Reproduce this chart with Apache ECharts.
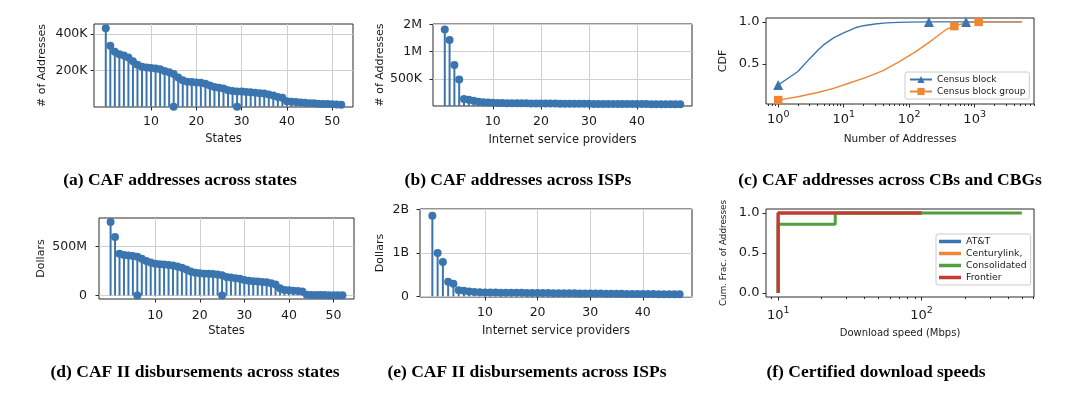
<!DOCTYPE html>
<html>
<head>
<meta charset="utf-8">
<title>CAF addresses and disbursements</title>
<script src="https://cdn.jsdelivr.net/npm/echarts@6/dist/echarts.min.js"></script>
<style>
  html, body { margin: 0; padding: 0; background: #fff; }
  #chart { width: 1066px; height: 394px; }
</style>
</head>
<body>
<div id="chart"></div>
<script>
// (a) CAF addresses per state, sorted
var stateAddresses = [431000, 335000, 302000, 289000, 282000, 270000, 250000, 230000, 220000, 216000,
  213000, 210000, 206000, 196000, 189000, 180000, 160000, 145000, 137000, 135000,
  133000, 131000, 126000, 116000, 108000, 104000, 100000, 90000, 86000, 84000,
  83000, 81000, 79000, 77000, 74000, 72000, 67000, 62000, 53000, 49000,
  30000, 27000, 25000, 23000, 21000, 19000, 18000, 16000, 15000, 14000,
  13000, 12000, 10000];
var stateAddrZeroIdx = [15, 29];
var stateAddrYTicks = [200000, 400000];

// (b) CAF addresses per ISP
var ispAddresses = [1404000, 1211000, 753000, 488000, 127000, 115000, 96000, 80000, 70000, 62000,
  58000, 55000, 53000, 52000, 51000, 50000, 49000, 48500, 47000, 46000,
  45500, 45000, 44000, 43800, 43000, 42500, 42000, 41000, 40800, 40000,
  39500, 39000, 38800, 38000, 37500, 37200, 37000, 36500, 36000, 35800,
  35500, 35000, 34700, 34400, 34000, 33800, 33500, 33200, 33000, 32600];
var ispAddrYTicks = [500000, 1000000, 1500000];

// (c) CDF of addresses per census block / block group
var cbCount = [1, 2, 3, 4, 5, 7, 10, 15, 20, 30, 45, 70, 100, 200, 740, 5250];
var cbCdf = [0.25, 0.41, 0.56, 0.66, 0.73, 0.81, 0.87, 0.93, 0.955, 0.975, 0.988, 0.995, 0.998, 1.0, 1.0, 1.0];
var cbMarkIdx = [0, 13, 14];
var cbgCount = [1, 2, 4, 7, 12, 22, 40, 72, 128, 230, 367, 490, 740, 1150, 5250];
var cbgCdf = [0.07, 0.11, 0.16, 0.21, 0.27, 0.34, 0.42, 0.53, 0.65, 0.79, 0.91, 0.95, 0.99, 1.0, 1.0];
var cbgMarkIdx = [0, 11, 13];
var cdfTicks = [0.5, 1.0];
var countLogTicks = [1, 10, 100, 1000];

// (d) CAF II disbursements per state, sorted
var stateDisbursements = [750e6, 597e6, 425e6, 412e6, 406e6, 402e6, 395e6, 375e6, 350e6, 336e6,
  322e6, 318e6, 315e6, 310e6, 305e6, 295e6, 283e6, 265e6, 245e6, 232e6,
  225e6, 222e6, 220e6, 218e6, 214e6, 205e6, 188e6, 182e6, 176e6, 170e6,
  158e6, 150e6, 145e6, 141e6, 137e6, 133e6, 124e6, 110e6, 72e6, 55e6,
  52e6, 48e6, 45e6, 40e6, 6e6, 4e6, 3e6, 3e6, 3e6, 2e6,
  2e6, 2e6, 2e6];
var stateDisbZeroIdx = [6, 25];
var stateDisbYTicks = [0, 500e6];

// (e) CAF II disbursements per ISP
var ispDisbursements = [1.86e9, 1.0e9, 0.79e9, 0.336e9, 0.29e9, 0.14e9, 0.13e9, 0.11e9, 0.10e9, 0.094e9,
  0.090e9, 0.088e9, 0.087e9, 0.085e9, 0.084e9, 0.083e9, 0.081e9, 0.080e9, 0.079e9, 0.077e9,
  0.076e9, 0.075e9, 0.074e9, 0.072e9, 0.071e9, 0.070e9, 0.069e9, 0.068e9, 0.066e9, 0.065e9,
  0.064e9, 0.063e9, 0.062e9, 0.061e9, 0.060e9, 0.058e9, 0.057e9, 0.056e9, 0.055e9, 0.054e9,
  0.053e9, 0.052e9, 0.051e9, 0.050e9, 0.049e9, 0.048e9, 0.047e9, 0.046e9];
var ispDisbYTicks = [0, 1e9, 2e9];

// (f) certified download speeds (step CDF per provider)
var providers = ['AT&T', 'Centurylink,', 'Consolidated', 'Frontier'];
var attSpeed = [10, 10, 100],            attFrac = [0, 1, 1];
var centurySpeed = [10, 10, 100],        centuryFrac = [0, 1, 1];
var consolidatedSpeed = [10, 10, 25, 500], consolidatedFrac = [0, 0.86, 1, 1];
var frontierSpeed = [10, 10, 100],       frontierFrac = [0, 1, 1];
var fracTicks = [0, 0.5, 1.0];
var speedLogTicks = [10, 100];

var stateTicks = [10, 20, 30, 40, 50];
var ispTicks = [10, 20, 30, 40];

var BLUE = '#3b75af', ORANGE = '#ef8636', GREEN = '#519e3e', RED = '#c53a32';
var FONT = 'DejaVu Sans';
var INK = '#1a1a1a';
var FRAME = '#2b2b2b';
var GRIDLINE = '#cfcfcf';

function abbrev(v) {
  if (v === 0) return '0';
  if (v >= 1e9) return Math.round(v / 1e9) + 'B';
  if (v >= 1e6) return Math.round(v / 1e6) + 'M';
  return Math.round(v / 1e3) + 'K';
}

// 10^k labels, superscript raised with rich text
function powLabel(v) {
  return '{b|10}{s|' + Math.round(Math.log10(v)) + '}';
}
var powRich = {
  b: { fontSize: 13, fontFamily: FONT, color: INK, verticalAlign: 'bottom' },
  s: { fontSize: 9.5, fontFamily: FONT, color: INK, verticalAlign: 'bottom', padding: [0, 0, 6, 0] }
};

function minorLogTicks(lo, hi) {
  var out = [];
  for (var e = Math.floor(Math.log10(lo)); e <= Math.ceil(Math.log10(hi)); e++) {
    for (var k = 2; k <= 9; k++) {
      var v = k * Math.pow(10, e);
      if (v >= lo && v <= hi) out.push(v);
    }
  }
  return out;
}

var option = {
  animation: false,
  backgroundColor: '#fff',
  textStyle: { fontFamily: FONT },
  title: [], grid: [], xAxis: [], yAxis: [], series: [], legend: []
};

function addGrid(box) {
  option.grid.push({
    left: box[0], top: box[1], width: box[2], height: box[3],
    show: true, borderColor: FRAME, borderWidth: 1, backgroundColor: 'transparent'
  });
  return option.grid.length - 1;
}

function axisName(size) {
  return { fontSize: size, color: INK, fontFamily: FONT };
}

// stem plot: thin bars from 0 plus round markers at the tips
function addStemPanel(p) {
  var g = addGrid(p.box);
  var n = p.values.length;
  var pad = 0.05 * (n - 1);
  option.xAxis.push({
    type: 'value', gridIndex: g, min: -pad, max: n - 1 + pad,
    name: p.xName, nameLocation: 'middle', nameGap: p.xNameGap, nameTextStyle: axisName(11.5),
    axisLine: { show: false, onZero: false },
    axisTick: { length: 3.5, lineStyle: { color: FRAME }, customValues: p.xTicks },
    axisLabel: { customValues: p.xTicks, margin: p.xLabelMargin, fontSize: 12.5, color: INK, fontFamily: FONT },
    splitLine: { show: true, lineStyle: { color: GRIDLINE, width: 1 } }
  });
  var xi = option.xAxis.length - 1;
  option.yAxis.push({
    type: 'value', gridIndex: g, min: p.yMin, max: p.yMax,
    name: p.yName, nameLocation: 'middle', nameGap: p.yNameGap, nameTextStyle: axisName(11),
    axisLine: { show: false, onZero: false },
    axisTick: { length: 3.5, lineStyle: { color: FRAME }, customValues: p.yTicks },
    axisLabel: { customValues: p.yTicks, margin: p.yLabelMargin, fontSize: 12.5, color: INK, fontFamily: FONT, formatter: abbrev },
    splitLine: { show: true, lineStyle: { color: GRIDLINE, width: 1 } }
  });
  var yi = option.yAxis.length - 1;
  var pts = p.values.map(function (v, i) { return [i, v]; });
  var zeros = (p.zeros || []).map(function (i) { return [i, 0]; });
  option.series.push({
    type: 'bar', xAxisIndex: xi, yAxisIndex: yi, data: pts, barWidth: 2,
    itemStyle: { color: BLUE }, silent: true
  });
  option.series.push({
    type: 'scatter', xAxisIndex: xi, yAxisIndex: yi, data: zeros.concat(pts),
    symbol: 'circle', symbolSize: 8, itemStyle: { color: BLUE, opacity: 1 }, silent: true
  });
}

// log-x panel: major ticks + labels on one axis, minor ticks on a twin
function addLogPanel(p) {
  var g = addGrid(p.box);
  option.xAxis.push({
    type: 'log', logBase: 10, gridIndex: g, min: p.xMin, max: p.xMax, position: 'bottom',
    name: p.xName, nameLocation: 'middle', nameGap: p.xNameGap, nameTextStyle: axisName(p.xNameSize),
    axisLine: { show: false, onZero: false },
    axisTick: { length: 3.5, lineStyle: { color: FRAME }, customValues: p.xTicks },
    axisLabel: { customValues: p.xTicks, margin: p.xLabelMargin, formatter: powLabel, rich: powRich },
    splitLine: { show: false }
  });
  var xi = option.xAxis.length - 1;
  option.xAxis.push({
    type: 'log', logBase: 10, gridIndex: g, min: p.xMin, max: p.xMax, position: 'bottom',
    axisLine: { show: false, onZero: false },
    axisTick: { length: 2, lineStyle: { color: FRAME }, customValues: minorLogTicks(p.xMin, p.xMax) },
    axisLabel: { show: false },
    splitLine: { show: false }
  });
  option.yAxis.push({
    type: 'value', gridIndex: g, min: p.yMin, max: p.yMax,
    name: p.yName, nameLocation: 'middle', nameGap: p.yNameGap, nameTextStyle: axisName(p.yNameSize),
    axisLine: { show: false, onZero: false },
    axisTick: { length: 3.5, lineStyle: { color: FRAME }, customValues: p.yTicks },
    axisLabel: { customValues: p.yTicks, margin: 6.5, fontSize: 13, color: INK, fontFamily: FONT,
      formatter: function (v) { return v.toFixed(1); } },
    splitLine: { show: false }
  });
  return { x: xi, y: option.yAxis.length - 1 };
}

function padLog(arrs) {
  var all = [].concat.apply([], arrs);
  var lo = Math.log10(Math.min.apply(null, all)), hi = Math.log10(Math.max.apply(null, all));
  var m = 0.05 * (hi - lo);
  return [Math.pow(10, lo - m), Math.pow(10, hi + m)];
}
function padLin(arrs) {
  var all = [].concat.apply([], arrs);
  var lo = Math.min.apply(null, all), hi = Math.max.apply(null, all);
  var m = 0.05 * (hi - lo);
  return [lo - m, hi + m];
}

addStemPanel({ box: [94, 24, 259, 83], values: stateAddresses, zeros: stateAddrZeroIdx,
  xTicks: stateTicks, yTicks: stateAddrYTicks, yMin: -2000, yMax: 455000,
  xName: 'States', yName: '# of Addresses', xNameGap: 26, yNameGap: 46, xLabelMargin: 8, yLabelMargin: 6.5 });
addStemPanel({ box: [433, 24, 259, 82], values: ispAddresses,
  xTicks: ispTicks, yTicks: ispAddrYTicks, yMin: 0, yMax: 1505000,
  xName: 'Internet service providers', yName: '# of Addresses', xNameGap: 28, yNameGap: 46, xLabelMargin: 9, yLabelMargin: 11 });

var cX = padLog([cbCount, cbgCount]), cY = padLin([cbCdf, cbgCdf]);
var cAx = addLogPanel({ box: [766, 18, 268, 86], xMin: cX[0], xMax: cX[1], yMin: cY[0], yMax: cY[1],
  xTicks: countLogTicks, yTicks: cdfTicks, xName: 'Number of Addresses', xNameSize: 10.5, xNameGap: 30,
  xLabelMargin: 6, yName: 'CDF', yNameSize: 11, yNameGap: 37 });

function markedLine(xs, ys, marks, symbol) {
  return xs.map(function (x, i) {
    return { value: [x, ys[i]], symbol: marks.indexOf(i) >= 0 ? symbol : 'none' };
  });
}
option.series.push({
  name: 'Census block', type: 'line', xAxisIndex: cAx.x, yAxisIndex: cAx.y,
  data: markedLine(cbCount, cbCdf, cbMarkIdx, 'triangle'), symbol: 'triangle', symbolSize: 10,
  lineStyle: { color: BLUE, width: 1.4 }, itemStyle: { color: BLUE }, silent: true
});
option.series.push({
  name: 'Census block group', type: 'line', xAxisIndex: cAx.x, yAxisIndex: cAx.y,
  data: markedLine(cbgCount, cbgCdf, cbgMarkIdx, 'rect'), symbol: 'rect', symbolSize: 8.5,
  lineStyle: { color: ORANGE, width: 1.4 }, itemStyle: { color: ORANGE }, silent: true
});
option.legend.push({
  data: ['Census block', 'Census block group'], orient: 'vertical', left: 905, top: 72,
  itemWidth: 22, itemHeight: 9, itemGap: 3, padding: [3, 4, 3, 4],
  backgroundColor: '#fff', borderColor: '#cccccc', borderWidth: 1, borderRadius: 2,
  textStyle: { fontSize: 9, color: INK, fontFamily: FONT }, selectedMode: false
});

addStemPanel({ box: [99, 218, 255, 81], values: stateDisbursements, zeros: stateDisbZeroIdx,
  xTicks: stateTicks, yTicks: stateDisbYTicks, yMin: -37e6, yMax: 790e6,
  xName: 'States', yName: 'Dollars', xNameGap: 26.5, yNameGap: 52, xLabelMargin: 10, yLabelMargin: 12 });
addStemPanel({ box: [420, 209, 272, 88], values: ispDisbursements,
  xTicks: ispTicks, yTicks: ispDisbYTicks, yMin: -0.016e9, yMax: 2.016e9,
  xName: 'Internet service providers', yName: 'Dollars', xNameGap: 28, yNameGap: 34, xLabelMargin: 9, yLabelMargin: 11 });

var fSpeeds = [attSpeed, centurySpeed, consolidatedSpeed, frontierSpeed];
var fFracs = [attFrac, centuryFrac, consolidatedFrac, frontierFrac];
var fColors = [BLUE, ORANGE, GREEN, RED];
var fX = padLog(fSpeeds), fY = padLin(fFracs);
var fAx = addLogPanel({ box: [766, 209, 268, 88], xMin: fX[0], xMax: fX[1], yMin: fY[0], yMax: fY[1],
  xTicks: speedLogTicks, yTicks: fracTicks, xName: 'Download speed (Mbps)', xNameSize: 10, xNameGap: 31,
  xLabelMargin: 9, yName: 'Cum. Frac. of Addresses', yNameSize: 8.8, yNameGap: 38 });
providers.forEach(function (name, k) {
  option.series.push({
    name: name, type: 'line', step: 'end', xAxisIndex: fAx.x, yAxisIndex: fAx.y,
    data: fSpeeds[k].map(function (s, i) { return [s, fFracs[k][i]]; }),
    symbol: 'none', lineStyle: { color: fColors[k], width: 3 }, itemStyle: { color: fColors[k] }, silent: true
  });
});
option.legend.push({
  data: providers.map(function (name) { return { name: name, icon: 'rect' }; }),
  orient: 'vertical', left: 936, top: 234,
  itemWidth: 22, itemHeight: 3.5, itemGap: 3, padding: [3, 4, 3, 3],
  backgroundColor: '#fff', borderColor: '#cccccc', borderWidth: 1, borderRadius: 2,
  textStyle: { fontSize: 9.3, color: INK, fontFamily: FONT }, selectedMode: false
});

var captions = [
  ['(a) CAF addresses across states', 180, 171],
  ['(b) CAF addresses across ISPs', 518, 171],
  ['(c) CAF addresses across CBs and CBGs', 890, 171],
  ['(d) CAF II disbursements across states', 195, 363],
  ['(e) CAF II disbursements across ISPs', 527, 363],
  ['(f) Certified download speeds', 876, 363]
];
captions.forEach(function (c) {
  option.title.push({
    text: c[0], left: c[1], top: c[2], textAlign: 'center', padding: 0,
    textStyle: { fontFamily: 'Liberation Serif', fontWeight: 'bold', fontSize: 17.5, color: '#000' }
  });
});

var chart = echarts.init(document.getElementById('chart'), null, { renderer: 'canvas' });
chart.setOption(option);
</script>
</body>
</html>
